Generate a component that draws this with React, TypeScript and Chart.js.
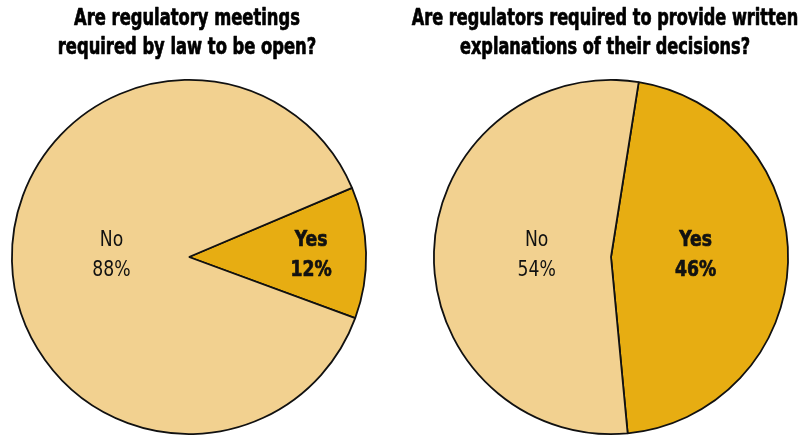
import React, { useEffect, useRef } from "react";
import { Chart, registerables } from "chart.js";

Chart.register(...registerables);

const categories = ["Yes", "No"];
const leftValues = [12, 88];
const rightValues = [46, 54];
const leftTitle = ["Are regulatory meetings", "required by law to be open?"];
const rightTitle = ["Are regulators required to provide written", "explanations of their decisions?"];
const sliceColors = ["#E7AD12", "#F2D190"];
const labelBold = [true, false];

const FONT = '"Liberation Sans Narrow", "DejaVu Sans Condensed", sans-serif';

function squeezedText(ctx: any, text: string, x: number, y: number, sx: number, heavy: number) {
  ctx.save();
  ctx.translate(x, y);
  ctx.scale(sx, 1);
  if (heavy > 0) {
    ctx.lineWidth = heavy;
    ctx.strokeStyle = ctx.fillStyle;
    ctx.lineJoin = "round";
    ctx.strokeText(text, 0, 0);
  }
  ctx.fillText(text, 0, 0);
  ctx.restore();
}

const sliceLabelPlugin = {
  id: "sliceLabels",
  afterDatasetsDraw(chart: any, _args: any, opts: any) {
    const ctx = chart.ctx;
    const meta = chart.getDatasetMeta(0);
    const ds = chart.data.datasets[0];
    meta.data.forEach((arc: any, i: number) => {
      const p = arc.getProps(["x", "y", "startAngle", "endAngle", "outerRadius"], true);
      const mid = (p.startAngle + p.endAngle) / 2;
      const r = p.outerRadius * opts.radius[i];
      const px = p.x + Math.cos(mid) * r;
      const py = p.y;
      const heavy = labelBold[i] ? 0.7 : 0;
      ctx.save();
      ctx.fillStyle = "#111111";
      ctx.textAlign = "center";
      ctx.textBaseline = "alphabetic";
      ctx.font = `${labelBold[i] ? "bold " : ""}${opts.size}px ${FONT}`;
      squeezedText(ctx, String(chart.data.labels[i]), px, py + opts.line1, opts.squeeze, heavy);
      squeezedText(ctx, ds.data[i] + "%", px, py + opts.line2, opts.squeeze, heavy);
      ctx.restore();
    });
  },
};

const titlePlugin = {
  id: "topTitle",
  afterDraw(chart: any, _args: any, opts: any) {
    const ctx = chart.ctx;
    ctx.save();
    ctx.fillStyle = "#000000";
    ctx.textAlign = "center";
    ctx.textBaseline = "alphabetic";
    ctx.font = `bold ${opts.size}px ${FONT}`;
    (opts.lines as string[]).forEach((l, i) => {
      squeezedText(ctx, l, opts.x, opts.y + i * opts.lineHeight, opts.squeeze, 0.7);
    });
    ctx.restore();
  },
};

type PieProps = {
  values: number[];
  title: string[];
  rotation: number;
  left: number;
  width: number;
  padLeft: number;
  padRight: number;
  titleX: number;
  titleSqueeze: number;
  labelRadius: number[];
};

function Pie(props: PieProps) {
  const ref = useRef<HTMLCanvasElement | null>(null);
  useEffect(() => {
    if (!ref.current) return;
    const chart = new Chart(ref.current, {
      type: "pie",
      data: {
        labels: categories,
        datasets: [
          {
            data: props.values,
            backgroundColor: sliceColors,
            borderColor: "#111111",
            borderWidth: 1.8,
          },
        ],
      },
      options: {
        responsive: false,
        animation: false,
        rotation: props.rotation,
        layout: {
          padding: { top: 79, bottom: 3, left: props.padLeft, right: props.padRight },
        },
        plugins: {
          legend: { display: false },
          tooltip: { enabled: false },
          title: { display: false },
          sliceLabels: {
            radius: props.labelRadius,
            size: 22,
            line1: -11,
            line2: 19,
            squeeze: 0.87,
          },
          topTitle: {
            lines: props.title,
            x: props.titleX,
            y: 25,
            lineHeight: 29,
            size: 23,
            squeeze: props.titleSqueeze,
          },
        } as any,
      },
      plugins: [sliceLabelPlugin, titlePlugin],
    });
    return () => chart.destroy();
  }, []);
  return (
    <canvas
      ref={ref}
      width={props.width}
      height={438}
      style={{ position: "absolute", left: props.left, top: 0, width: props.width, height: 438 }}
    />
  );
}

export default function App() {
  return (
    <div style={{ position: "absolute", left: 0, top: 0, width: 804, height: 438, background: "#ffffff" }}>
      <Pie
        values={leftValues}
        title={leftTitle}
        rotation={67}
        left={0}
        width={378}
        padLeft={0}
        padRight={0}
        titleX={187}
        titleSqueeze={0.79}
        labelRadius={[0.69, 0.438]}
      />
      <Pie
        values={rightValues}
        title={rightTitle}
        rotation={9}
        left={404}
        width={400}
        padLeft={29}
        padRight={15}
        titleX={201}
        titleSqueeze={0.78}
        labelRadius={[0.478, 0.42]}
      />
    </div>
  );
}
